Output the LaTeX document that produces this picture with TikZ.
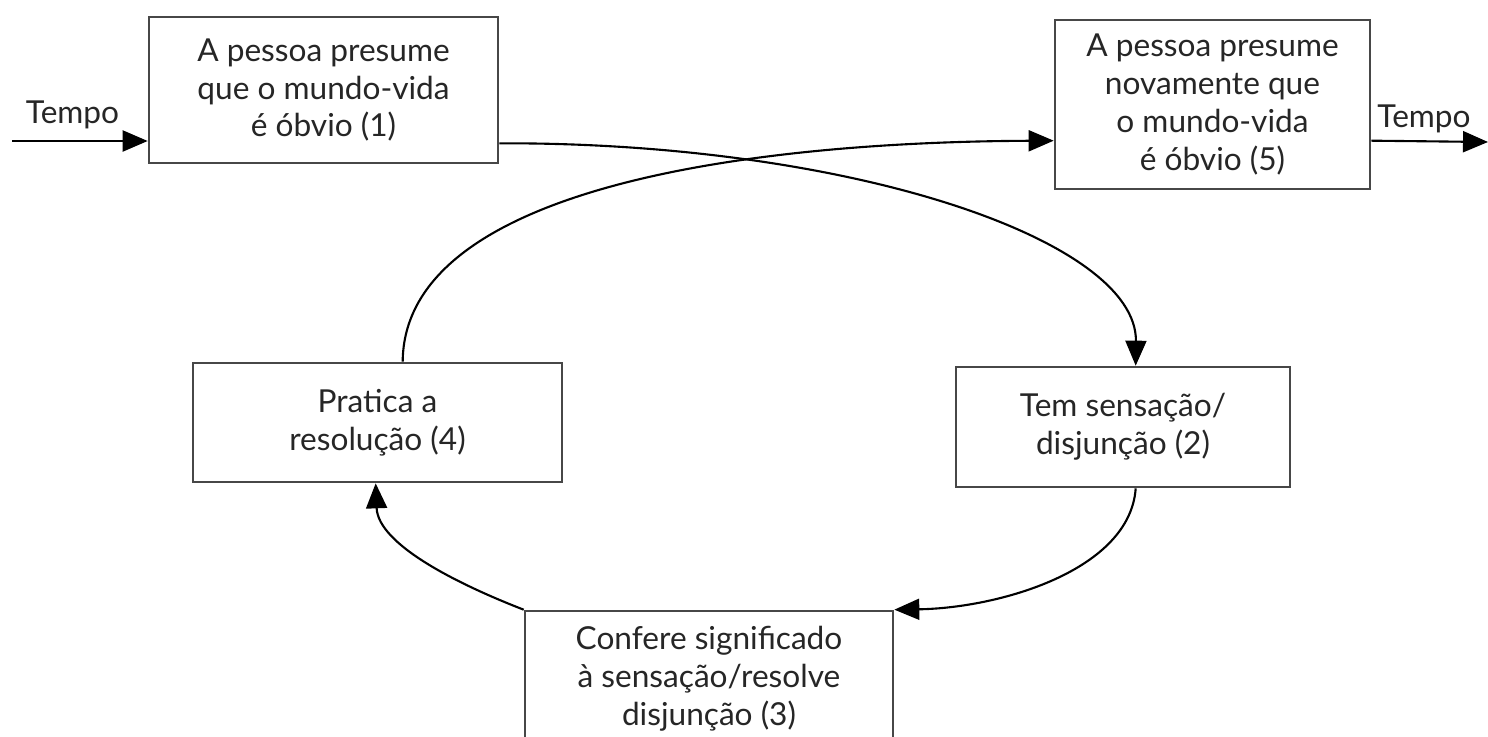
\documentclass[tikz,border=0pt]{standalone}
\usepackage{fontspec}
\setmainfont{Lato}
\usetikzlibrary{arrows.meta,calc}
\begin{document}
\begin{tikzpicture}[
  box/.style={draw=black!72, line width=1.5pt, fill=white, align=center, inner sep=0pt,
              font=\fontsize{18}{21.5}\selectfont, text=black!85},
  conn/.style={line width=1.2pt, -{Triangle[length=0.5cm,width=0.42cm]}},
  lbl/.style={font=\fontsize{18}{21}\selectfont, text=black!85, inner sep=0pt}
]
\useasboundingbox (0,0) rectangle (29.76,-14.72);
\clip (0,0) rectangle (29.76,-14.72);
\fill[white] (0,0) rectangle (29.76,-14.72);

\node[box, minimum width=6.98cm, minimum height=2.92cm] (b1) at (6.47,-1.80)
  {A pessoa presume\\que o mundo-vida\\é óbvio (1)};
\node[box, minimum width=6.3cm, minimum height=3.38cm] (b5) at (24.25,-2.09)
  {A pessoa presume\\novamente que\\o mundo-vida\\é óbvio (5)};
\node[box, minimum width=7.38cm, minimum height=2.38cm] (b4) at (7.55,-8.45)
  {Pratica a\\resolução (4)};
\node[box, minimum width=6.68cm, minimum height=2.4cm] (b2) at (22.46,-8.54)
  {Tem sensação/\\disjunção (2)};
\node[box, minimum width=7.36cm, minimum height=2.6cm, text depth=0pt] (b3) at (14.18,-13.52)
  {Confere significado\\à sensação/resolve\\disjunção (3)};

\coordinate (tl) at (0.24,-2.82);
\coordinate (tr) at (29.76,-2.84);
\node[lbl] (t1) at (1.45,-2.3) {Tempo};
\node[lbl] (t2) at (28.48,-2.38) {Tempo};

\coordinate (b1out) at ($(b1.south east)+(0,0.42)$);
\coordinate (b5in) at ($(b5.north west)+(0,-2.44)$);
\coordinate (b5out) at ($(b5.north east)+(0,-2.44)$);
\coordinate (b2in) at ($(b2.north west)+(3.62,0)$);
\coordinate (b2out) at ($(b2.south west)+(3.62,0)$);
\coordinate (b4out) at ($(b4.north west)+(4.22,0)$);
\coordinate (b4in) at ($(b4.south west)+(3.68,0)$);

\draw[conn] (tl) -- (tl -| b1.west);
\draw[conn] (b5out) -- (tr);
\draw[conn] (b1out) .. controls (17.0,-2.84) and (22.74,-4.8) .. (b2in);
\draw[conn] (b4out) .. controls (8.08,-3.8) and (14.8,-2.84) .. (b5in);
\draw[conn] (b2out) .. controls (22.6,-11.4) and (20,-12.16) .. (b3.north east);
\draw[conn] (b3.north west) .. controls (9.2,-11.7) and (7.56,-10.9) .. (b4in);
\end{tikzpicture}
\end{document}
